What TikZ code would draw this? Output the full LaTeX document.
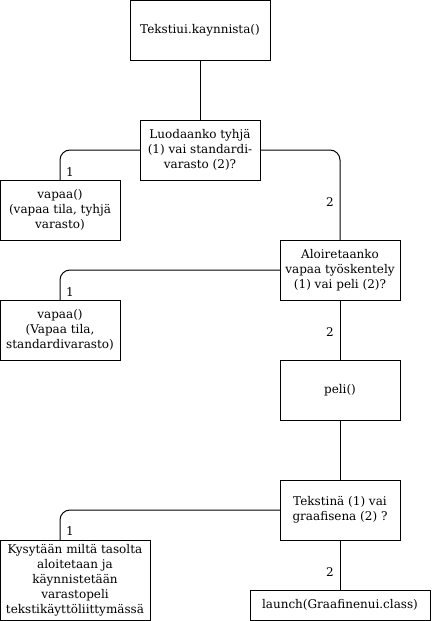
\documentclass[tikz,border=0pt]{standalone}
\usepackage{fontspec}
\setmainfont{DejaVu Serif}
\begin{document}
\begin{tikzpicture}[x=1pt,y=-1pt,
  box/.style={draw,line width=1pt,inner sep=0pt,outer sep=0pt,align=center,
    font=\fontsize{12}{15}\selectfont},
  conn/.style={line width=1pt,rounded corners=10pt},
  lbl/.style={inner sep=0pt,font=\fontsize{12}{15}\selectfont}]
\useasboundingbox (0,0) rectangle (431,621);
\node[box,minimum width=140,minimum height=60] (tk) at (200,30) {Tekstiui.kaynnista()};
\node[box,minimum width=120,minimum height=60] (luo) at (200,150) {Luodaanko tyhjä\\(1) vai standardi-\\varasto (2)?};
\node[box,minimum width=120,minimum height=60] (v1) at (60,210) {vapaa()\\(vapaa tila, tyhjä\\varasto)};
\node[box,minimum width=120,minimum height=60] (alo) at (340,270) {Aloiretaanko\\vapaa työskentely\\(1) vai peli (2)?};
\node[box,minimum width=120,minimum height=60] (v2) at (60,330) {vapaa()\\(Vapaa tila,\\standardivarasto)};
\node[box,minimum width=120,minimum height=60] (peli) at (340,390) {peli()};
\node[box,minimum width=120,minimum height=60] (tek) at (340,510) {Tekstinä (1) vai\\graafisena (2) ?};
\node[box,minimum width=150,minimum height=80] (kys) at (75,580) {Kysytään miltä tasolta\\aloitetaan ja\\käynnistetään\\varastopeli\\tekstikäyttöliittymässä};
\node[box,minimum width=180,minimum height=30] (la) at (340,605) {launch(Graafinenui.class)};
\coordinate (k1) at (60,540);
\draw[conn] (tk.south) -- (luo.north);
\draw[conn] (luo.west) -| (v1.north);
\draw[conn] (luo.east) -| (alo.north);
\draw[conn] (alo.west) -| (v2.north);
\draw[conn] (alo.south) -- (peli.north);
\draw[conn] (peli.south) -- (tek.north);
\draw[conn] (tek.west) -| (k1);
\draw[conn] (tek.south) -- (la.north);
\node[lbl] (l1) at (70,172) {1};
\node[lbl] (l2) at (330,202) {2};
\node[lbl] (l3) at (70,292) {1};
\node[lbl] (l4) at (330,332) {2};
\node[lbl] (l5) at (70,531) {1};
\node[lbl] (l6) at (330,572) {2};
\end{tikzpicture}
\end{document}
